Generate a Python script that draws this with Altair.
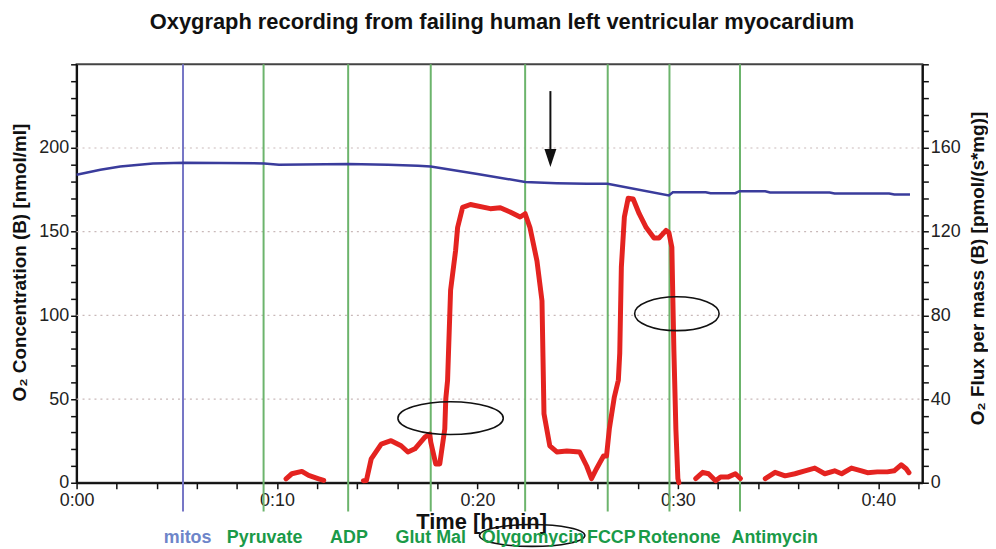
import altair as alt
import pandas as pd

W, H = 851, 421
FONT = "Liberation Sans"

title_text = "Oxygraph recording from failing human left ventricular myocardium"
left_title = "O₂ Concentration (B) [nmol/ml]"
right_title = "O₂ Flux per mass (B) [pmol/(s*mg)]"
x_title = "Time [h:min]"

# O2 concentration (left axis, nmol/ml) vs time (min)
blue_t = [0, 1.19, 2.18, 3.81, 5.35, 9.36, 10.1, 13.56, 15.54, 17.03, 17.67, 20.0, 22.38,
          23.96, 25.45, 26.49, 29.55, 29.75, 31.39, 31.63, 32.87, 33.07, 34.36, 34.6,
          37.57, 37.82, 40.54, 40.8, 41.58]
blue_v = [184, 187, 189, 190.8, 191.2, 190.8, 190, 190.4, 190, 189.4, 189, 184.5, 179.7,
          179, 178.6, 178.6, 171.7, 173.6, 173.6, 173, 173, 174.2, 174.2, 173.4,
          173.4, 172.8, 172.8, 172.2, 172.2]

# O2 flux per mass (right axis, pmol/(s*mg)); None = gap in trace
red_t = [10.45, 10.74, 11.24, 11.58, 12.08, 12.33, 13.3,
         14.31, 14.46, 14.70, 15.20, 15.69, 16.19, 16.53, 16.88, 17.38, 17.62, 17.67, 17.92,
         18.12, 18.37, 18.42, 18.51, 18.66, 18.91, 19.01, 19.26, 19.65, 20.64, 21.14, 21.63,
         22.13, 22.38, 22.62, 22.97, 23.22, 23.27, 23.32, 23.61, 23.96, 24.46, 25.10, 25.45,
         25.69, 25.94, 26.29, 26.44, 26.58, 26.83, 27.03, 27.10, 27.18, 27.33, 27.52, 27.77,
         28.07, 28.42, 28.81, 29.06, 29.41, 29.55, 29.70, 29.75, 29.80, 29.85, 29.90, 30.00,
         30.05, 30.5,
         30.89, 31.24, 31.53, 31.88, 32.13, 32.52, 32.87, 33.12, 33.7,
         34.36, 34.85, 35.35, 35.84, 36.34, 36.83, 37.33, 37.82, 38.17, 38.66, 39.16, 39.46,
         39.95, 40.45, 40.79, 41.14, 41.39, 41.53]
red_v = [1.9, 4.3, 5.4, 3.5, 1.9, 1.1, None,
         1.0, 1.1, 11.4, 18.5, 20.1, 17.7, 14.7, 16.2, 21.8, 23.3, 19.5, 9,
         9, 25.7, 40, 49, 92, 111, 122, 131.6, 133, 131, 131.4, 129.4,
         127, 128.6, 122, 106, 87, 60, 33, 17.6, 14.7, 15.2, 14.7, 8,
         2, 6.7, 12.8, 12.8, 25.7, 41, 49, 62, 103, 127, 136, 135.6,
         128.6, 122, 117, 117, 120.6, 119.6, 112.6, 87.4, 63.6, 45, 25.7, 2,
         0, None,
         2, 5, 4.3, 1, 2.8, 2.8, 4.3, 2, None,
         2, 5, 3.3, 4.3, 5.7, 7, 4.3, 5.7, 4.3, 7, 5.7, 4.8,
         5.2, 5.2, 5.7, 8.6, 6.7, 4.8]

event_names = ["mitos", "Pyruvate", "ADP", "Glut Mal", "Olygomycin", "FCCP", "Rotenone", "Antimycin"]
event_t = [5.31, 9.33, 13.55, 17.67, 22.38, 26.50, 29.58, 33.10]
label_t = [5.54, 9.38, 13.59, 17.67, 22.77, 26.68, 30.07, 34.83]

grid_levels = [50, 100, 150, 200]

arrow_t = [23.64]
arrow_top = [234]
arrow_bottom = [198]
arrow_head = [194]

ellipse_t = [18.66, 29.95, 22.73]
ellipse_v = [38.6, 101, -31.5]
ellipse_wh = [(106, 33), (85, 34), (106, 22)]

BLUE = "#3a3c9c"
RED = "#e42320"
GREEN_LINE = "#6cb46c"
MITOS_LINE = "#7676c6"
GREEN_TXT = "#1a9a48"
MITOS_TXT = "#6d85c9"

xs = alt.Scale(domain=[0, 42.2], nice=False, zero=False)
yl = alt.Scale(domain=[0, 250], nice=False, zero=False)
yr = alt.Scale(domain=[0, 200], nice=False, zero=False)

x_axis = alt.Axis(
    values=list(range(0, 43, 2)),
    labelExpr="datum.value % 10 == 0 ? '0:' + (datum.value < 10 ? '0' + datum.value : datum.value) : ''",
    tickSize=6, tickWidth=1.5, tickColor="#111", domainColor="#111", domainWidth=2,
    labelFont=FONT, labelFontSize=18, labelColor="#222", labelPadding=3, labelFlush=False,
    labelOverlap=False, grid=False,
    title=x_title, titleFont=FONT, titleFontSize=22, titleFontWeight="bold", titleColor="#111",
    titleX=407, titleY=39, titleAnchor="middle", titleAlign="center", titleBaseline="middle")

blue_df = pd.DataFrame({"t": blue_t, "v": blue_v})
red_df = pd.DataFrame({"t": red_t, "v": red_v})
ev_df = pd.DataFrame({"name": event_names, "t": event_t, "lt": label_t})
grid_df = pd.DataFrame({"v": grid_levels})
arrow_df = pd.DataFrame({"t": arrow_t, "top": arrow_top, "bot": arrow_bottom, "head": arrow_head})


def xenc(field="t"):
    return alt.X(f"{field}:Q", scale=xs, axis=x_axis)


grid = alt.Chart(grid_df).mark_rule(color="#c9b9b9", strokeDash=[2, 4], strokeWidth=1.2).encode(
    y=alt.Y("v:Q", scale=yl, axis=None), x=alt.value(0), x2=alt.value(W))

ev_color = alt.when(alt.datum.name == "mitos").then(alt.value(MITOS_LINE)).otherwise(alt.value(GREEN_LINE))
events = alt.Chart(ev_df).mark_rule(strokeWidth=2).encode(
    x=xenc(), y=alt.value(0), y2=alt.value(H + 29), color=ev_color)

lab_color = alt.when(alt.datum.name == "mitos").then(alt.value(MITOS_TXT)).otherwise(alt.value(GREEN_TXT))
ev_labels = alt.Chart(ev_df).mark_text(font=FONT, fontSize=18, fontWeight="bold", baseline="middle").encode(
    x=xenc("lt"), y=alt.value(H + 56), text="name:N", color=lab_color)

blue = alt.Chart(blue_df).mark_line(color=BLUE, strokeWidth=2.5).encode(
    x=xenc(),
    y=alt.Y("v:Q", scale=yl, axis=alt.Axis(
        orient="left", values=list(range(0, 251, 10)),
        labelExpr="datum.value % 50 == 0 && datum.value < 250 ? datum.label : ''",
        tickSize=6, tickWidth=1.5, tickColor="#111", domainColor="#111", domainWidth=2,
        labelFont=FONT, labelFontSize=18, labelColor="#222", labelPadding=2, labelOverlap=False,
        labelFlush=False, grid=False,
        title=left_title, titleFont=FONT, titleFontSize=19, titleFontWeight="bold", titleColor="#111",
        titleAngle=270, titleX=-57, titleY=199, titleAlign="center", titleBaseline="middle")))

red = alt.Chart(red_df).mark_line(color=RED, strokeWidth=5, strokeJoin="round", strokeCap="round").encode(
    x=xenc(),
    y=alt.Y("v:Q", scale=yr, axis=alt.Axis(
        orient="right", values=list(range(0, 201, 8)),
        labelExpr="datum.value % 40 == 0 && datum.value < 200 ? datum.label : ''",
        tickSize=6, tickWidth=1.5, tickColor="#111", domainColor="#111", domainWidth=2,
        labelFont=FONT, labelFontSize=18, labelColor="#222", labelPadding=2, labelOverlap=False,
        labelFlush=False, grid=False,
        title=right_title, titleFont=FONT, titleFontSize=19, titleFontWeight="bold", titleColor="#111",
        titleAngle=270, titleX=55, titleY=205, titleAlign="center", titleBaseline="middle")))

arrow_line = alt.Chart(arrow_df).mark_rule(color="#111", strokeWidth=2).encode(
    x=xenc(), y=alt.Y("top:Q", scale=yl, axis=None), y2="bot:Q")
arrow_tip = alt.Chart(arrow_df).mark_point(
    shape="M-0.667,-1L0.667,-1L0,1Z", size=324, filled=True, color="#111", opacity=1).encode(
    x=xenc(), y=alt.Y("head:Q", scale=yl, axis=None))

ellipses = []
for et, ev, (ew, eh) in zip(ellipse_t, ellipse_v, ellipse_wh):
    r = eh / ew
    path = f"M-1,0A1,{r:.4f} 0 1,1 1,0A1,{r:.4f} 0 1,1 -1,0Z"
    ellipses.append(alt.Chart(pd.DataFrame({"t": [et], "v": [ev]})).mark_point(
        shape=path, size=ew * ew, filled=False, stroke="#111", strokeWidth=1.6, opacity=1).encode(
        x=xenc(), y=alt.Y("v:Q", scale=yl, axis=None)))

title = alt.Chart(pd.DataFrame({"txt": [title_text]})).mark_text(
    font=FONT, fontSize=22, fontWeight="bold", color="#111", baseline="middle", align="center").encode(
    x=alt.value(428), y=alt.value(-43), text="txt:N")

chart = alt.layer(grid, events, blue, red, arrow_line, arrow_tip, *ellipses, ev_labels, title).resolve_scale(
    y="independent").properties(
    width=W, height=H, autosize=alt.AutoSizeParams(type="none"),
    padding={"left": 69, "top": 55, "right": 66, "bottom": 65},
    background="white").configure_view(stroke="#444", strokeWidth=2)

chart.save("out.html", embed_options={"renderer": "svg", "actions": False})
